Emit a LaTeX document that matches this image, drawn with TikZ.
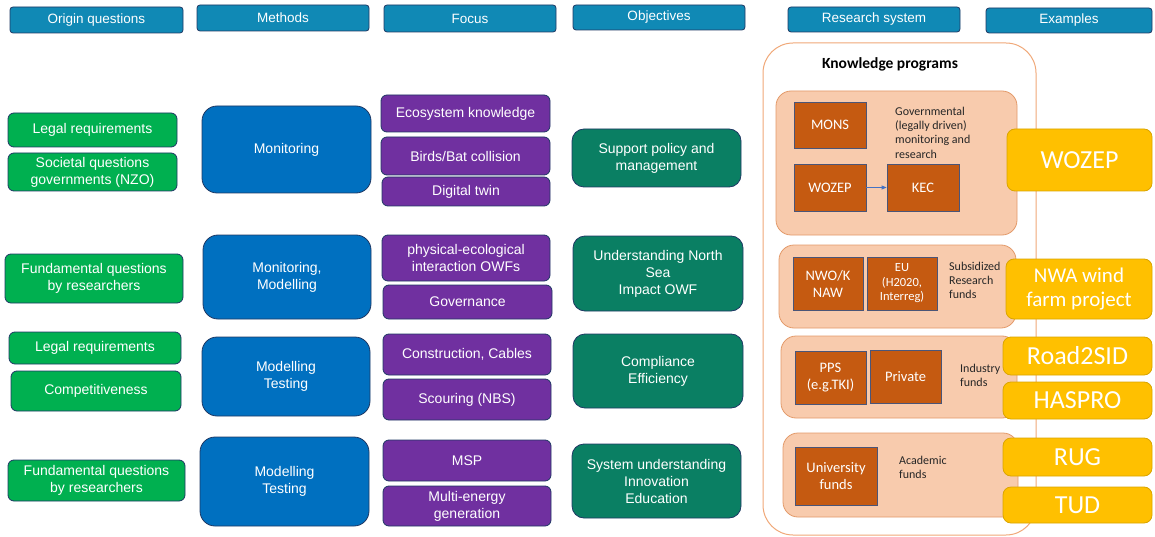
\documentclass[tikz,border=0pt]{standalone}
\usepackage{fontspec}
\setmainfont{Liberation Sans}
\newfontfamily\carl{Carlito}
\usetikzlibrary{arrows.meta}
\definecolor{hdr}{HTML}{1089B5}
\definecolor{navy}{HTML}{1F3864}
\definecolor{grn}{HTML}{00B050}
\definecolor{blu}{HTML}{0070C0}
\definecolor{pur}{HTML}{7030A0}
\definecolor{teal}{HTML}{0A7F63}
\definecolor{peach}{HTML}{F8CBAD}
\definecolor{peachline}{HTML}{E39A6A}
\definecolor{outer}{HTML}{F0A878}
\definecolor{rust}{HTML}{C55A11}
\definecolor{rustline}{HTML}{4A5578}
\definecolor{yel}{HTML}{FFC000}
\definecolor{yelline}{HTML}{D9A400}
\definecolor{arr}{HTML}{4472C4}
\newcommand{\bx}[7]{\node[#1, minimum width={#5pt-#3pt}, minimum height={#6pt-#4pt}] (#2) at ({(#3+#5)/2},{(#4+#6)/2}) {#7};}
\tikzset{
  base/.style={draw=navy, line width=0.8pt, inner sep=1pt, align=center, text=white},
  hdrbox/.style={base, fill=hdr, rounded corners=3pt, font=\fontsize{13.5}{15}\selectfont},
  grnbox/.style={base, fill=grn, rounded corners=6pt, font=\fontsize{14}{17}\selectfont},
  blubox/.style={base, fill=blu, rounded corners=15pt, font=\fontsize{14}{17}\selectfont},
  purbox/.style={base, fill=pur, rounded corners=6pt, font=\fontsize{14}{17}\selectfont},
  tealbox/.style={base, fill=teal, rounded corners=12pt, font=\fontsize{14}{17}\selectfont},
  peachbox/.style={draw=peachline, fill=peach, line width=0.8pt, rounded corners=15pt},
  rustbox/.style={draw=rustline, fill=rust, line width=0.8pt, text=white, align=center, inner sep=1pt, font=\carl\fontsize{14.5}{17}\selectfont},
  yelbox/.style={draw=yelline, fill=yel, line width=0.8pt, text=white, align=center, inner sep=1pt, rounded corners=8pt},
  small/.style={align=left, text=black!85, inner sep=0pt, font=\carl\fontsize{12}{14.2}\selectfont, anchor=north west}
}
\begin{document}
\begin{tikzpicture}[x=1pt,y=-1pt]
\useasboundingbox (0,0) rectangle (1155,537);
% headers
\bx{hdrbox}{h1}{10}{7}{183}{33}{Origin questions}
\bx{hdrbox}{h2}{197}{5}{369}{31}{Methods}
\bx{hdrbox}{h3}{384}{5}{556}{32}{Focus}
\bx{hdrbox}{h4}{573}{5}{745}{30}{Objectives}
\bx{hdrbox}{h5}{788}{7}{960}{32}{Research system}
\bx{hdrbox}{h6}{986}{8}{1152}{33}{Examples}
% origin questions
\bx{grnbox}{o1}{8}{113}{177}{147}{Legal requirements}
\bx{grnbox}{o2}{8}{153}{177}{191}{Societal questions\\governments (NZO)}
\bx{grnbox}{o3}{5}{254}{183}{303}{Fundamental questions\\by researchers}
\bx{grnbox}{o4}{9}{332}{181}{364}{Legal requirements}
\bx{grnbox}{o5}{11}{371}{181}{411}{Competitiveness}
\bx{grnbox}{o6}{8}{460}{185}{501}{Fundamental questions\\by researchers}
% methods
\bx{blubox}{m1}{202}{106}{371}{193}{Monitoring}
\bx{blubox}{m2}{203}{235}{371}{319}{Monitoring,\\Modelling}
\bx{blubox}{m3}{202}{337}{370}{416}{Modelling\\Testing}
\bx{blubox}{m4}{200}{437}{369}{526}{Modelling\\Testing}
% focus
\bx{purbox}{f1}{381}{95}{550}{132}{Ecosystem knowledge}
\bx{purbox}{f2}{381}{137}{550}{175}{Birds/Bat collision}
\bx{purbox}{f3}{382}{177}{550}{206}{Digital twin}
\bx{purbox}{f4}{382}{235}{550}{281}{physical-ecological\\interaction OWFs}
\bx{purbox}{f5}{383}{285}{552}{319}{Governance}
\bx{purbox}{f6}{383}{334}{551}{375}{Construction, Cables}
\bx{purbox}{f7}{383}{379}{551}{420}{Scouring (NBS)}
\bx{purbox}{f8}{383}{440}{551}{481}{MSP}
\bx{purbox}{f9}{383}{486}{551}{526}{Multi-energy\\generation}
% objectives
\bx{tealbox}{b1}{572}{129}{741}{187}{Support policy and\\management}
\bx{tealbox}{b2}{573}{236}{743}{311}{Understanding North\\Sea\\Impact OWF}
\bx{tealbox}{b3}{573}{334}{743}{408}{Compliance\\Efficiency}
\bx{tealbox}{b4}{572}{444}{741}{518}{System understanding\\Innovation\\Education}
% research system
\draw[draw=outer, line width=1pt, fill=white, rounded corners=30pt] (763,43) rectangle (1036,535);
\node[font=\carl\bfseries\fontsize{15.5}{18}\selectfont, text=black] (kp) at (890,64) {Knowledge programs};
\draw[peachbox] (776,91) rectangle (1017,235);
\draw[peachbox] (779,245) rectangle (1016,328);
\draw[peachbox] (781,336) rectangle (1017,418);
\draw[peachbox] (783,433) rectangle (1018,517);
\bx{rustbox}{mons}{794}{102}{866}{148}{MONS}
\bx{rustbox}{woz}{794}{164}{866}{211}{WOZEP}
\bx{rustbox}{kec}{887}{164}{959}{211}{KEC}
\draw[arr, line width=0.8pt, -{Triangle[length=5pt,width=4pt]}] (woz) -- (kec);
\node[small] (gt) at (895,107) {Governmental\\(legally driven)\\monitoring and\\research};
\bx{rustbox}{nwo}{793}{257}{863}{310}{NWO/K\\NAW}
\bx{rustbox,font=\carl\fontsize{12.5}{14.5}\selectfont}{eu}{867}{257}{937}{310}{EU\\(H2020,\\Interreg)}
\node[small] (st) at (949,262) {Subsidized\\Research\\funds};
\bx{rustbox}{pps}{795}{351}{866}{404}{PPS\\(e.g.TKI)}
\bx{rustbox}{priv}{870}{350}{941}{403}{Private}
\node[small] (it) at (960,364) {Industry\\funds};
\bx{rustbox}{uni}{795}{447}{877}{505}{University\\funds}
\node[small] (at) at (899,456) {Academic\\funds};
% examples
\bx{yelbox, font=\carl\fontsize{26}{28}\selectfont}{e1}{1007}{129}{1152}{191}{WOZEP}
\bx{yelbox, font=\carl\fontsize{21}{24}\selectfont}{e2}{1006}{259}{1152}{319}{NWA wind\\farm project}
\bx{yelbox, font=\carl\fontsize{26}{28}\selectfont}{e3}{1003}{337}{1152}{375}{Road2SID}
\bx{yelbox, font=\carl\fontsize{26}{28}\selectfont}{e4}{1003}{382}{1152}{419}{HASPRO}
\bx{yelbox, font=\carl\fontsize{26}{28}\selectfont}{e5}{1003}{438}{1152}{476}{RUG}
\bx{yelbox, font=\carl\fontsize{26}{28}\selectfont}{e6}{1003}{487}{1152}{523}{TUD}
\end{tikzpicture}
\end{document}
